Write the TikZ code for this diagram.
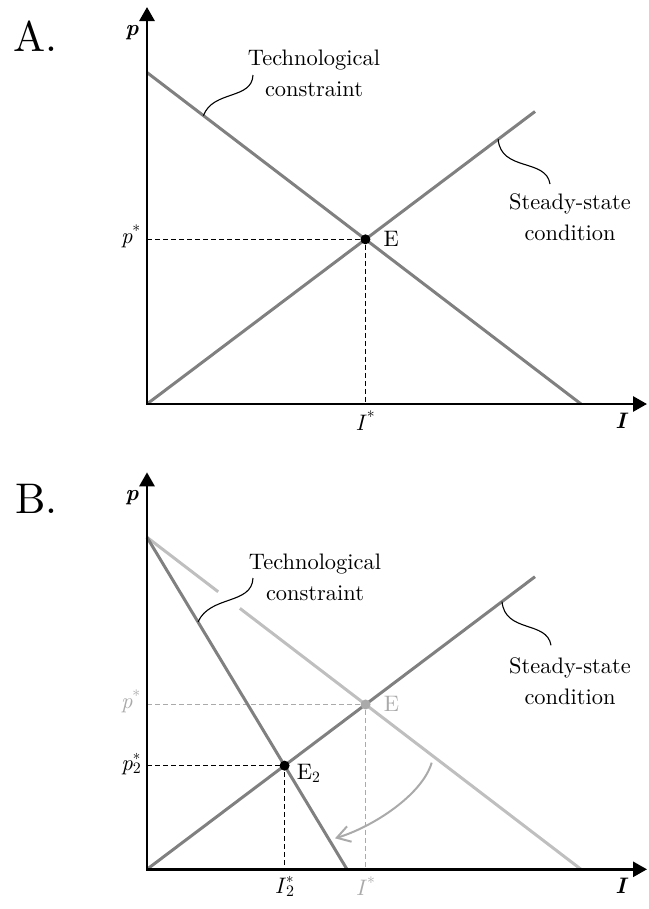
\documentclass[tikz,border=0pt]{standalone}
\usepackage{fontspec}
\setmainfont{lmroman10-regular.otf}[
  BoldFont=lmroman10-bold.otf,
  ItalicFont=lmroman10-italic.otf,
  BoldItalicFont=lmroman10-bolditalic.otf]
\usetikzlibrary{arrows.meta,calc}
\definecolor{midgray}{RGB}{128,128,128}
\definecolor{oldgray}{RGB}{191,191,191}
\definecolor{faint}{RGB}{170,170,170}
\newcommand{\axlab}[1]{\textbf{\textit{#1}}}
\newcommand{\starsub}[1]{\rlap{\raisebox{5.5bp}{\fontsize{15}{15}\selectfont *}}\raisebox{-3.5bp}{\fontsize{16}{16}\selectfont #1}}
\begin{document}
\begin{tikzpicture}[x=1bp,y=-1bp,
  font=\fontsize{22.5}{31}\selectfont,
  axis/.style={line width=2.8bp,{Triangle[length=14bp,width=15bp]}-{Triangle[length=14bp,width=15bp]}},
  curve/.style={line width=3bp,midgray},
  oldcurve/.style={line width=3bp,oldgray},
  guide/.style={line width=1.3bp,dash pattern=on 5bp off 3bp},
  callout/.style={line width=1.1bp,black},
  lbl/.style={inner sep=1bp},
  title/.style={inner sep=0pt,font=\fontsize{43}{48}\selectfont},
  eqdot/.style={circle,fill=black,inner sep=0pt,minimum size=10bp},
  shifted/.style={arrows={-{Straight Barb[length=13bp,width=16bp]}}},
]
\useasboundingbox (0,0) rectangle (649,909);

% ---------------- Panel A ----------------
\node[title,anchor=base west] (titleA) at (13,51) {A.};
\coordinate (OA) at (147,404);
\coordinate (yA) at (147,7);
\coordinate (xA) at (647,404);
\coordinate (tA1) at (147,72.5);
\coordinate (tA2) at (581,404);
\coordinate (sA2) at (535,111.5);
\coordinate (EA) at (intersection of tA1--tA2 and OA--sA2);
\coordinate (pA) at (EA -| OA);
\coordinate (IA) at (EA |- OA);

\draw[guide] (pA) -- (EA) -- (IA);
\draw[curve] (tA1) -- (tA2);
\draw[curve] (OA) -- (sA2);
\draw[axis] (yA) -- (OA) -- (xA);
\node[eqdot] (EdotA) at (EA) {};

\node (pAxisA) at (132,32.5) {\axlab{p}};
\node (IAxisA) at (622,420.5) {\axlab{I}};
\node[lbl,anchor=base east] (pstarA) at ([xshift=-5bp,yshift=-4.5bp]pA) {\textit{p}\textsuperscript{*}};
\node[lbl,anchor=north] (IstarA) at ([yshift=-6bp]IA) {\textit{I}\textsuperscript{*}};
\node[lbl,anchor=base west] (ElabA) at ([xshift=17bp,yshift=-7.5bp]EA) {E};

\node[align=center] (techA) at (314,73) {Technological\\constraint};
\node[align=center] (steadyA) at (570,217) {Steady-state\\condition};
\coordinate (cA1) at ($(tA1)!0.13!(tA2)$);
\coordinate (cA2) at (253,75);
\draw[callout] (cA1) .. controls (213,90) and (252,100) .. (cA2);
\coordinate (dA1) at ($(OA)!0.905!(sA2)$);
\coordinate (dA2) at (550,184);
\draw[callout] (dA1) .. controls (501,172) and (546,158) .. (dA2);

% ---------------- Panel B ----------------
\begin{scope}[shift={(0,465.3)}]
\node[title,anchor=base west] (titleB) at (15,48.5) {B.};
\coordinate (OB) at (147,404);
\coordinate (yB) at (147,7);
\coordinate (xB) at (647,404);
\coordinate (tB1) at (147,72);
\coordinate (tB2) at (581,404);
\coordinate (nB2) at (347,404);
\coordinate (sB2) at (535,111.4);
\coordinate (EB) at (intersection of tB1--tB2 and OB--sB2);
\coordinate (E2B) at (intersection of tB1--nB2 and OB--sB2);
\coordinate (pB) at (EB -| OB);
\coordinate (IB) at (EB |- OB);
\coordinate (p2B) at (E2B -| OB);
\coordinate (I2B) at (E2B |- OB);

\draw[guide,faint] (pB) -- (EB) -- (IB);
\draw[guide] (p2B) -- (E2B) -- (I2B);
\draw[oldcurve] (tB1) -- ($(tB1)!0.164!(tB2)$);
\draw[oldcurve] ($(tB1)!0.214!(tB2)$) -- (tB2);
\draw[curve] (tB1) -- (nB2);
\draw[curve] (OB) -- (sB2);
\draw[axis] (yB) -- (OB) -- (xB);
\node[eqdot,fill=faint] (EdotB) at (EB) {};
\node[eqdot] (E2dotB) at (E2B) {};

\node (pAxisB) at (132,32.5) {\axlab{p}};
\node (IAxisB) at (622,420.5) {\axlab{I}};
\node[lbl,anchor=base east,text=faint] (pstarB) at ([xshift=-5bp,yshift=-4.5bp]pB) {\textit{p}\textsuperscript{*}};
\node[lbl,anchor=base east] (p2starB) at ([xshift=-5bp,yshift=-4.5bp]p2B) {\textit{p}\starsub{2}};
\node[lbl,anchor=north,text=faint] (IstarB) at ([yshift=-6bp]IB) {\textit{I}\textsuperscript{*}};
\node[lbl,anchor=north] (I2starB) at ([yshift=-6bp]I2B) {\textit{I}\starsub{2}};
\node[lbl,anchor=base west,text=faint] (ElabB) at ([xshift=17bp,yshift=-7.5bp]EB) {E};
\node[lbl,anchor=base west] (E2labB) at ([xshift=11bp,yshift=-14bp]E2B) {E\textsubscript{2}};

\node[align=center] (techB) at (315,111.7) {Technological\\constraint};
\node[align=center] (steadyB) at (570,216) {Steady-state\\condition};
\coordinate (cB1) at ($(tB1)!0.255!(nB2)$);
\coordinate (cB2) at (253,112.7);
\draw[callout] (cB1) .. controls (210,129.7) and (252,139.7) .. (cB2);
\coordinate (dB1) at ($(OB)!0.915!(sB2)$);
\coordinate (dB2) at (551,180);
\draw[callout] (dB1) .. controls (505,168) and (547,155) .. (dB2);

\coordinate (arrS) at (431.7,297.4);
\coordinate (arrE) at (335,373);
\draw[faint,line width=2bp,shifted] (arrS) .. controls (422,330) and (372,362) .. (arrE);
\end{scope}
\end{tikzpicture}
\end{document}
